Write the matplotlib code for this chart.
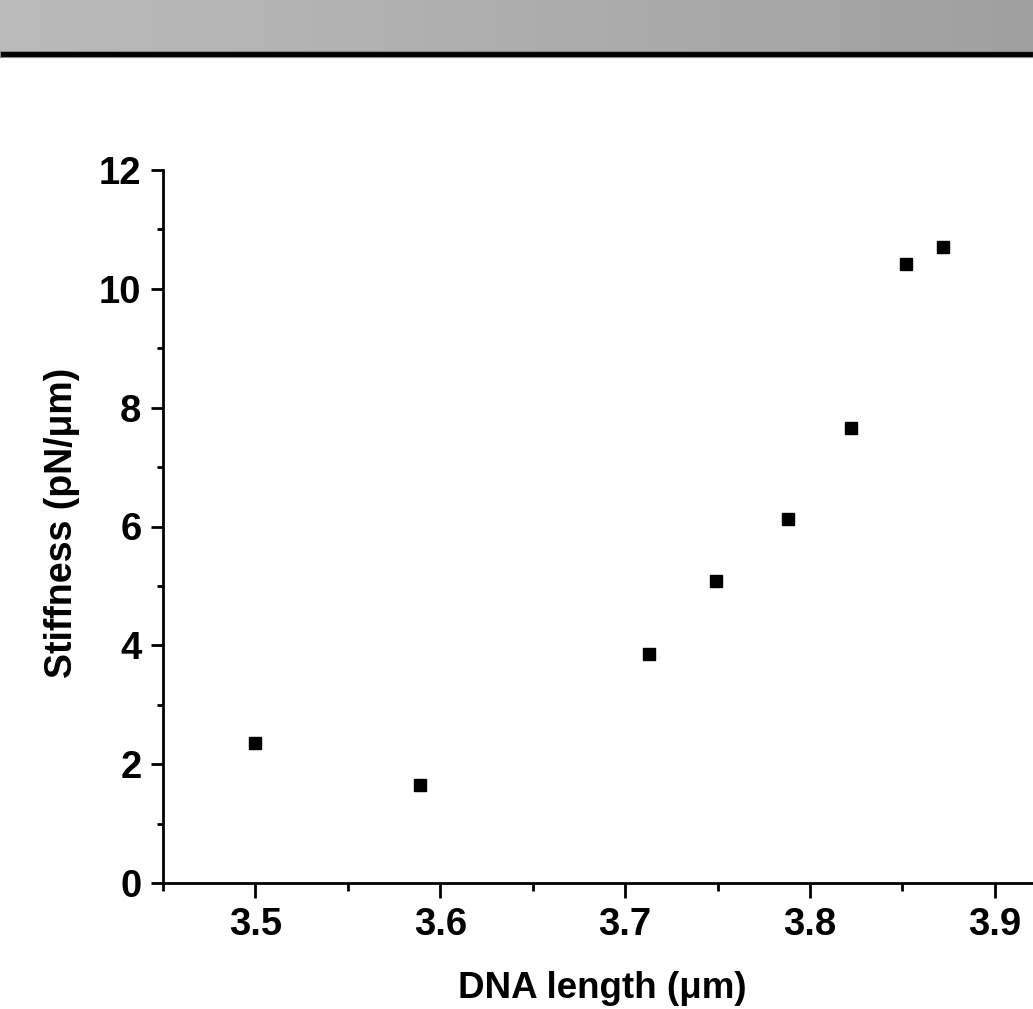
import matplotlib
matplotlib.use("Agg")
import matplotlib.pyplot as plt
import numpy as np
from matplotlib.ticker import MultipleLocator

# --- dados ---
dna_length = [3.500, 3.589, 3.713, 3.749, 3.788, 3.822, 3.852, 3.872]
stiffness = [2.35, 1.65, 3.86, 5.09, 6.13, 7.65, 10.41, 10.71]

x_ticks = [3.5, 3.6, 3.7, 3.8, 3.9]
y_ticks = [0, 2, 4, 6, 8, 10, 12]

plt.rcParams['font.family'] = ['Liberation Sans', 'DejaVu Sans']
plt.rcParams['font.weight'] = 'bold'

fig = plt.figure(figsize=(10.33, 10.09), dpi=100)

# faixa cinza no topo (gradiente claro -> escuro)
ax_banner = fig.add_axes([0, 1 - 51 / 1009, 1, 51 / 1009])
tons = np.linspace(0xbb, 0xa0, 256) / 255.0
grad = np.dstack([tons, tons, tons]).reshape(1, -1, 3)
ax_banner.imshow(grad, aspect='auto', extent=[0, 1, 0, 1])
ax_banner.axis('off')
ax_linha = fig.add_axes([0, 1 - 57 / 1009, 1, 6 / 1009])
ax_linha.set_facecolor('black')
for s in ax_linha.spines.values():
    s.set_color('#888888')
    s.set_linewidth(0.8)
ax_linha.set_xticks([])
ax_linha.set_yticks([])

# eixo principal
ax = fig.add_axes([163 / 1033, 126 / 1009, (1087.25 - 163) / 1033, 713 / 1009])
ax.plot(dna_length, stiffness, linestyle='None', marker='s', markersize=8.5,
        color='black')

ax.set_xlim(3.45, 3.95)
ax.set_ylim(0, 12)
ax.set_xticks(x_ticks)
ax.set_yticks(y_ticks)
ax.xaxis.set_minor_locator(MultipleLocator(0.05))
ax.yaxis.set_minor_locator(MultipleLocator(1))

ax.spines['top'].set_visible(False)
ax.spines['right'].set_visible(False)
ax.spines['left'].set_linewidth(2)
ax.spines['bottom'].set_linewidth(2)

ax.tick_params(axis='x', which='major', direction='out', length=10.5, width=2,
               labelsize=27.5, pad=7)
ax.tick_params(axis='x', which='minor', direction='out', length=5.8, width=2)
ax.tick_params(axis='y', which='major', direction='out', length=8.5, width=2,
               labelsize=27.5, pad=7)
ax.tick_params(axis='y', which='minor', direction='out', length=4.3, width=2)
ax.set_xticklabels([f'{v:.1f}' for v in x_ticks], fontweight='bold')
ax.set_yticklabels([str(v) for v in y_ticks], fontweight='bold')

fig.text(602 / 1033, 1 - 998 / 1009, 'DNA length (μm)', ha='center', va='baseline',
         fontsize=26.5, fontweight='bold')
fig.text(62 / 1033, 1 - 523 / 1009, 'Stiffness (pN/μm)', ha='center', va='center',
         rotation=90, fontsize=27, fontweight='bold')

fig.savefig('out.png', dpi=100)
